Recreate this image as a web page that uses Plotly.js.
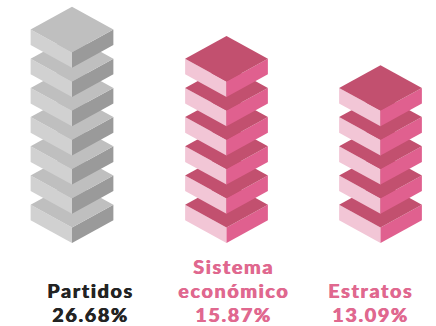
<!DOCTYPE html>
<html>
<head>
<meta charset="utf-8">
<script src="https://cdn.plot.ly/plotly-3.0.1.min.js"></script>
<style>html,body{margin:0;padding:0;background:#fff}#c{width:436px;height:326px}
.annotation-text{letter-spacing:1.6px}</style>
</head>
<body>
<div id="c"></div>
<script>
const categories = [["Partidos"], ["Sistema", "económico"], ["Estratos"]];
const shares = ["26.68%", "15.87%", "13.09%"];
const layerCounts = [7, 6, 5];
const greyFaces = {top: "#bfbfbf", left: "#d1d1d1", right: "#9a9a9a"};
const pinkFaces = {top: "#c2506f", left: "#f2c6d6", right: "#e0608f"};
const columnFaces = [greyFaces, pinkFaces, pinkFaces];
const labelColors = ["#232323", "#e0688f", "#e0688f"];
const columnX = [72, 226.5, 380.5];
const labelX = [90, 233, 370];

const halfW = 41.4, halfH = 22.7, thick = 15.6, step = 29.2, bottomApex = 243;
const lastLineY = 313.8, lineGap = 24;
const traces = [];
function face(xs, ys, color) {
  traces.push({x: xs, y: ys, type: "scatter", mode: "lines", fill: "toself",
    fillcolor: color, line: {width: 0, color: color}, hoverinfo: "skip", showlegend: false});
}
layerCounts.forEach((n, c) => {
  const cx = columnX[c], f = columnFaces[c];
  for (let i = 0; i < n; i++) {
    const b = bottomApex - i * step;   // lowest point of this slab
    const m = b - thick;               // front corner of the top face
    face([cx - halfW, cx, cx, cx - halfW, cx - halfW], [m - halfH, m, b, b - halfH, m - halfH], f.left);
    face([cx + halfW, cx, cx, cx + halfW, cx + halfW], [m - halfH, m, b, b - halfH, m - halfH], f.right);
    face([cx, cx + halfW, cx, cx - halfW, cx], [m - 2 * halfH, m - halfH, m, m - halfH, m - 2 * halfH], f.top);
  }
});
const annotations = [];
categories.forEach((lines, i) => {
  const all = lines.concat(shares[i]);
  all.forEach((t, k) => annotations.push({
    x: labelX[i], y: lastLineY - (all.length - 1 - k) * lineGap, xref: "x", yref: "y",
    xanchor: "center", yanchor: "middle", showarrow: false, align: "center", borderpad: 0,
    text: t,
    font: {family: "Lato, sans-serif", size: 19.8, weight: 900, color: labelColors[i],
      shadow: "0.6px 0 0 " + labelColors[i]}
  }));
});
Plotly.newPlot("c", traces, {
  width: 436, height: 326, margin: {l: 0, r: 0, t: 0, b: 0},
  paper_bgcolor: "#fff", plot_bgcolor: "#fff", showlegend: false,
  xaxis: {range: [0, 436], visible: false, fixedrange: true},
  yaxis: {range: [326, 0], visible: false, fixedrange: true},
  annotations
}, {staticPlot: true, displayModeBar: false});
</script>
</body>
</html>
